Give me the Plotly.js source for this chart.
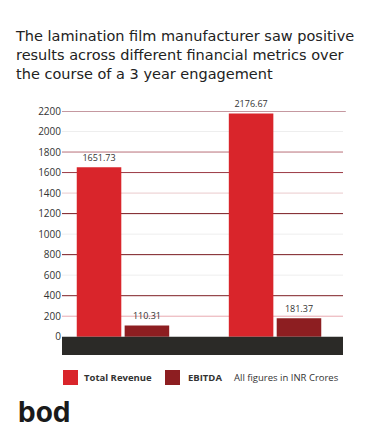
<!DOCTYPE html>
<html>
<head>
<meta charset="utf-8">
<script src="https://cdn.plot.ly/plotly-3.0.1.min.js"></script>
<style>html,body{margin:0;padding:0;background:#fff;}#chart{width:387px;height:445px;}</style>
</head>
<body>
<div id="chart"></div>
<script>
// ---- data ----
var categories = ["Year 1", "Year 3"];
var revenue = [1651.73, 2176.67];
var ebitda = [110.31, 181.37];
var seriesNames = ["Total Revenue", "EBITDA"];
var yTicks = [0, 200, 400, 600, 800, 1000, 1200, 1400, 1600, 1800, 2000, 2200];
var yTickLabels = ["0", "200", "400", "600", "800", "1000", "1200", "1400", "1600", "1800", "2000", "2200"];
var titleText = "The lamination film manufacturer saw positive<br>results across different financial metrics over<br>the course of a 3 year engagement";
var unitNote = "All figures in INR Crores";
var brand = "bod";

// ---- styles ----
var revColor = "#D9252B";
var ebitdaColor = "#8D1E21";
var gridColors = {
  200: "#E8A9B0", 400: "#7E1F24", 600: "#EEEEEE", 800: "#7A1A20",
  1000: "#EEEEEE", 1200: "#7A1A20", 1400: "#EACACC", 1600: "#9C3A45",
  1800: "#B87078", 2000: "#EEEEEE", 2200: "#8C3242"
};

// plot area: x 62..343 px, y 111..355 px
var plotW = 281, plotBottom = 355, plotH = 244;
function px2x(px) { return (px - 62) / plotW; }
function py2y(py) { return (plotBottom - py) / plotH; }

var shapes = [];
yTicks.forEach(function (v) {
  if (v === 0) return;
  shapes.push({
    type: "line", xref: "paper", yref: "y", x0: 0, x1: v === 2200 ? 1.01 : 1, y0: v, y1: v,
    line: { color: gridColors[v], width: 1 }, layer: "below"
  });
});
// dark base band below zero
shapes.push({
  type: "rect", xref: "paper", yref: "paper", x0: 0, x1: 1, y0: 0, y1: 0.075,
  fillcolor: "#2B2A27", line: { width: 0 }, layer: "above"
});

var textFont = { family: "Open Sans, sans-serif", size: 9, color: "#333333" };
var legFont = { family: "Open Sans, sans-serif", size: 9.5, color: "#333333" };

var traces = [
  {
    type: "bar", name: seriesNames[0], x: categories, y: revenue,
    marker: { color: revColor }, text: revenue.map(function (v) { return v.toFixed(2); }),
    textposition: "outside", textfont: textFont, cliponaxis: false, hoverinfo: "y"
  },
  {
    type: "bar", name: seriesNames[1], x: categories, y: ebitda,
    marker: { color: ebitdaColor }, text: ebitda.map(function (v) { return v.toFixed(2); }),
    textposition: "outside", textfont: textFont, cliponaxis: false, hoverinfo: "y"
  }
];

// legend (drawn as swatches + labels)
var legendItems = [
  { name: seriesNames[0], color: revColor, sx: 63, tx: 82 },
  { name: seriesNames[1], color: ebitdaColor, sx: 165, tx: 186 }
];
var annotations = [];
legendItems.forEach(function (it) {
  shapes.push({
    type: "rect", xref: "paper", yref: "paper",
    x0: px2x(it.sx), x1: px2x(it.sx + 15), y0: py2y(385), y1: py2y(370),
    fillcolor: it.color, line: { width: 0 }
  });
  annotations.push({
    text: "<b>" + it.name + "</b>", xref: "paper", yref: "paper", x: px2x(it.tx), xanchor: "left",
    y: py2y(377.5), yanchor: "middle", showarrow: false, font: legFont
  });
});
annotations.push({
  text: unitNote, xref: "paper", yref: "paper", x: px2x(232), xanchor: "left",
  y: py2y(377.5), yanchor: "middle", showarrow: false, font: legFont
});
annotations.push({
  text: "<b>" + brand + "</b>", xref: "paper", yref: "paper",
  x: px2x(16), xanchor: "left", y: py2y(412), yanchor: "middle", showarrow: false,
  font: { family: "Inter, sans-serif", size: 28, color: "#1A1A1A" }
});

var layout = {
  width: 387, height: 445,
  paper_bgcolor: "#FFFFFF", plot_bgcolor: "#FFFFFF",
  margin: { l: 62, r: 44, t: 111, b: 90 },
  title: {
    text: titleText, xref: "container", yref: "container", x: 16 / 387, xanchor: "left",
    y: 1 - 41 / 445, yanchor: "top",
    font: { family: "DejaVu Sans, Verdana, sans-serif", size: 14.5, color: "#222222" }
  },
  barmode: "group", bargap: 0.37, bargroupgap: 0.07,
  xaxis: {
    type: "category", range: [-0.401, 1.447], showticklabels: false, showgrid: false,
    zeroline: false, showline: false, ticks: ""
  },
  yaxis: {
    range: [-178, 2200], tickmode: "array", tickvals: yTicks, ticktext: yTickLabels,
    showgrid: false, zeroline: false, showline: false, ticks: "",
    tickfont: { family: "Open Sans, sans-serif", size: 10, color: "#333333" }
  },
  shapes: shapes,
  showlegend: false,
  annotations: annotations
};

Plotly.newPlot("chart", traces, layout, { displayModeBar: false, staticPlot: true });
</script>
</body>
</html>
